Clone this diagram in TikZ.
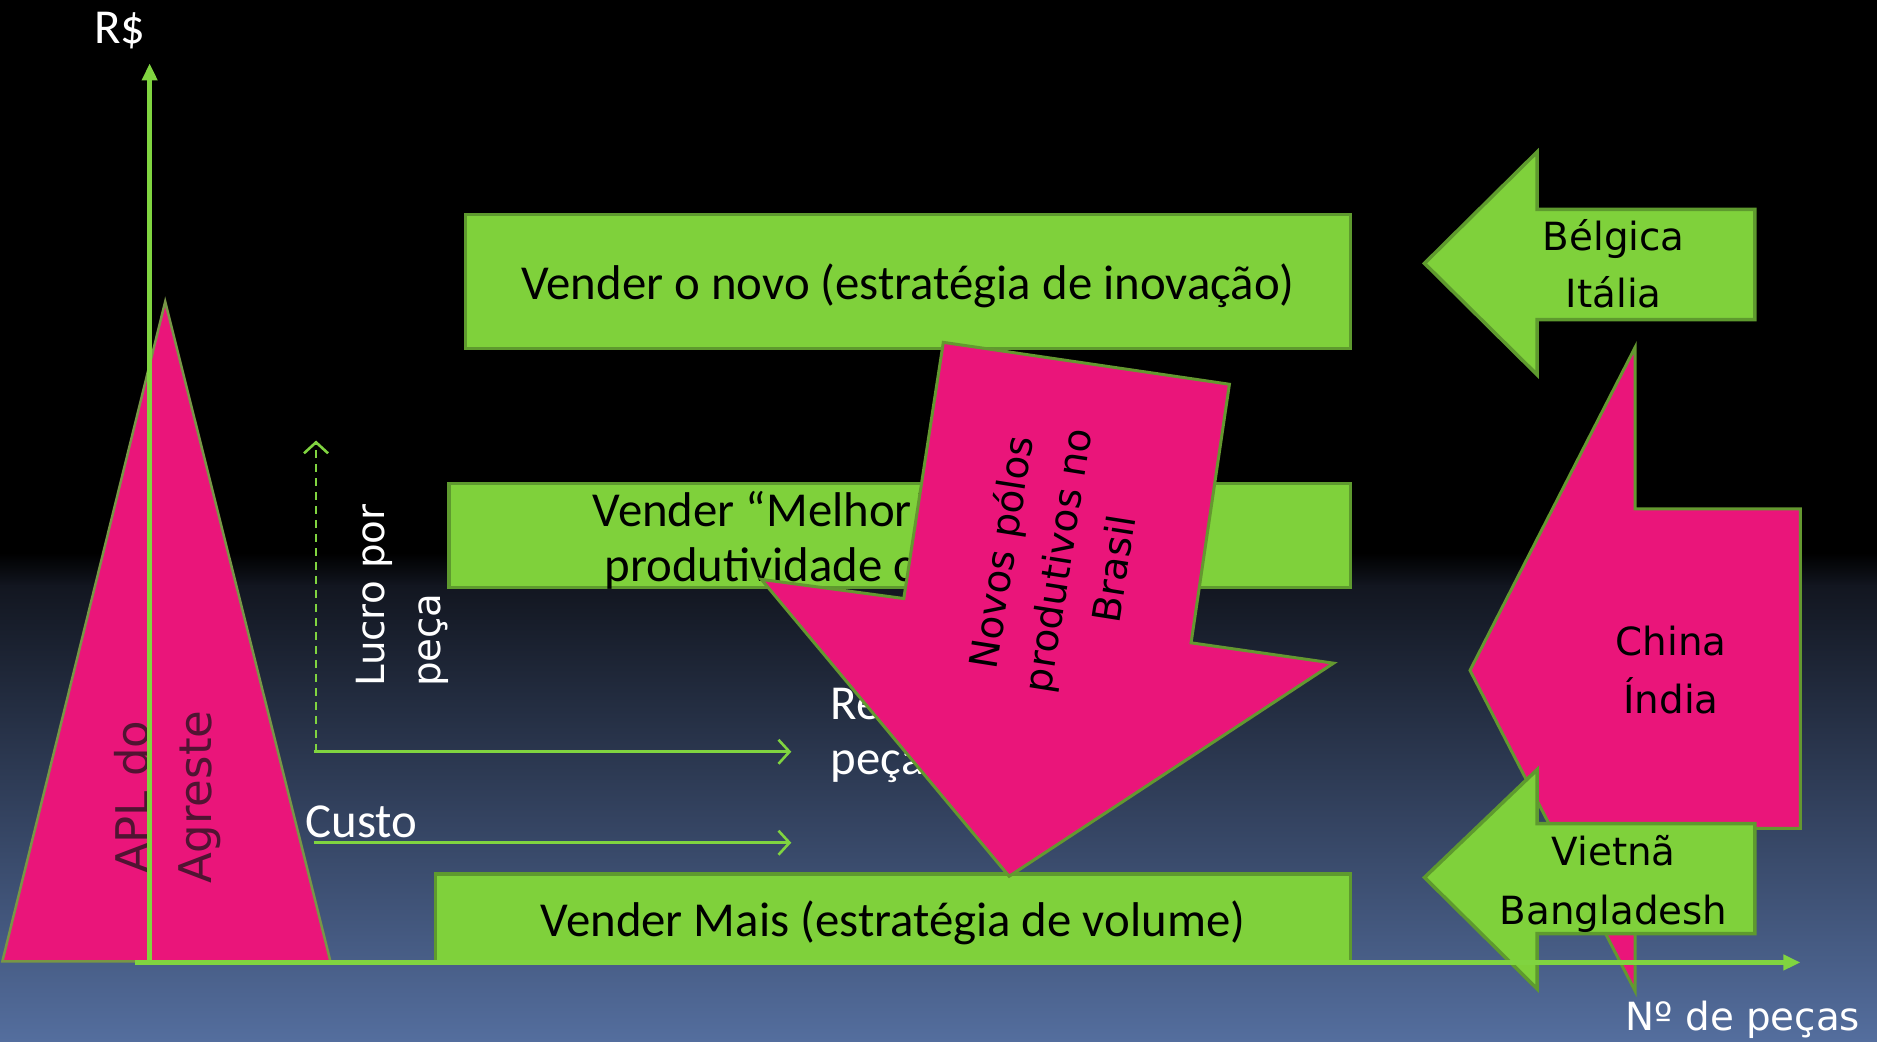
\documentclass[tikz,border=0pt]{standalone}
\usepackage{fontspec}
\setmainfont{Carlito}
\newfontfamily\dv{DejaVu Sans}
\usetikzlibrary{arrows.meta}
\definecolor{gfill}{RGB}{127,209,59}
\definecolor{gline}{RGB}{94,154,46}
\definecolor{axisg}{RGB}{128,212,64}
\definecolor{pinkc}{RGB}{234,21,122}
\definecolor{pline}{RGB}{100,152,48}
\definecolor{triline}{RGB}{120,150,70}
\definecolor{apl}{RGB}{80,20,50}
\definecolor{bgtop}{RGB}{18,22,32}
\definecolor{bgbot}{RGB}{84,110,158}
\tikzset{
  gbox/.style={draw=gline, fill=gfill, line width=3.5pt, inner sep=0pt},
  pinkshape/.style={draw=pline, fill=pinkc, line width=3pt},
  gshape/.style={draw=gline, fill=gfill, line width=3.5pt},
  axisline/.style={draw=axisg, line width=4.5pt, -{Triangle[width=15pt,length=17pt]}},
  thinarrow/.style={draw=axisg, line width=2.6pt, -{Straight Barb[length=11pt,width=24pt]}},
  caltext/.style={font=\fontsize{48.8}{55}\selectfont, text=black, inner sep=0pt},
  wtext/.style={font=\fontsize{48.8}{55}\selectfont, text=white, inner sep=0pt},
  dvtext/.style={font=\dv\fontsize{38.8}{57}\selectfont, text=black, inner sep=0pt},
  dvwhite/.style={dvtext, text=white},
  apltext/.style={font=\dv\fontsize{45}{60}\selectfont, text=apl, inner sep=0pt},
}
\begin{document}
\begin{tikzpicture}[x=1.197pt,y=-1.197pt]
\useasboundingbox (0,0) rectangle (1568,870);
% background
\fill[black] (0,0) rectangle (1568,870);
\shade[top color=black, bottom color=bgtop] (0,462) rectangle (1568,490);
\shade[top color=bgtop, bottom color=bgbot] (0,489) rectangle (1568,870);

% APL triangle
\draw[fill=pinkc, draw=triline, line width=2.5pt] (2,803) -- (138,252) -- (276,803) -- cycle;
\node[apltext, rotate=90, anchor=base] (apl1) at (124,666) {APL do};
\node[apltext, rotate=90, anchor=base] (apl2) at (177,666) {Agreste};

% axes coordinates
\coordinate (ybot) at (125,806);
\coordinate (ytop) at (125,53);
\coordinate (xleft) at (113,804);
\coordinate (xright) at (1504,804);
\draw[axisline] (ybot) -- (ytop);
\node[wtext, anchor=base] (rs) at (100,36) {R\$};

% green strategy boxes
\node[gbox, minimum width=884.6pt, minimum height=134.1pt] (b1) at (758.5,235) {};
\node[caltext] (b1t) at (758.5,238.5) {Vender o novo (estratégia de inovação)};
\node[gbox, minimum width=901.3pt, minimum height=104.1pt] (b2) at (751.5,447.5) {};
\node[caltext, anchor=base west] (b2t1) at (495,440) {Vender “Melhor” (estratégia};
\node[caltext, anchor=base west] (b2t2) at (505,486) {produtividade com qualidade};
\node[gbox, minimum width=914.5pt, minimum height=87.4pt] (b3) at (746,766.5) {};
\node[caltext] (b3t) at (746,771) {Vender Mais (estratégia de volume)};

% lucro / custo arrows
\coordinate (lo) at (264,628);
\coordinate (ltop) at (264,368);
\coordinate (lo2) at (262,628);
\coordinate (lright) at (661,628);
\coordinate (co) at (262,704);
\coordinate (cright) at (661,704);
\draw[thinarrow, dash pattern=on 8pt off 6pt] (lo) -- (ltop);
\draw[thinarrow] (lo2) -- (lright);
\draw[thinarrow] (co) -- (cright);
\node[dvwhite, rotate=90, anchor=base west] (lu1) at (321,574) {Lucro por};
\node[dvwhite, rotate=90, anchor=base west] (lu2) at (368,574) {peça};
\node[wtext, anchor=base west] (custo) at (255,700) {Custo};
\node[wtext, anchor=base west] (rec1) at (694,601) {Receita por};
\node[wtext, anchor=base west] (rec2) at (694,647) {peça};

% Novos polos arrow
\draw[pinkshape] (788,286) -- (1027,321) -- (995,537) -- (1114,554) -- (843,732) -- (636,484) -- (755,500) -- cycle;
\node[dvtext, rotate=81, anchor=base] (np1) at (848,463) {Novos pólos};
\node[dvtext, rotate=81, anchor=base] (np2) at (895,470) {produtivos no};
\node[dvtext, rotate=81, anchor=base] (np3) at (942,477) {Brasil};

% Belgica / Italia arrow
\draw[gshape] (1190,220) -- (1284,127) -- (1284,175) -- (1466,175) -- (1466,267) -- (1284,267) -- (1284,313) -- cycle;
\node[dvtext, anchor=base] (bel1) at (1348,209) {Bélgica};
\node[dvtext, anchor=base] (bel2) at (1348,257) {Itália};

% China / India arrow
\draw[pinkshape] (1228,560) -- (1366,290) -- (1366,425) -- (1504,425) -- (1504,692) -- (1366,692) -- (1366,828) -- cycle;
\node[dvtext, anchor=base] (ch1) at (1396,548) {China};
\node[dvtext, anchor=base] (ch2) at (1396,596) {Índia};

% Vietna / Bangladesh arrow
\draw[gshape] (1190,733) -- (1284,643) -- (1284,688) -- (1466,688) -- (1466,780) -- (1284,780) -- (1284,826) -- cycle;
\node[dvtext, anchor=base] (vi1) at (1348,723) {Vietnã};
\node[dvtext, anchor=base] (vi2) at (1348,772) {Bangladesh};

% x axis
\draw[axisline] (xleft) -- (xright);
\node[dvwhite, anchor=base west] (npc) at (1358,861) {Nº de peças};
\end{tikzpicture}
\end{document}
